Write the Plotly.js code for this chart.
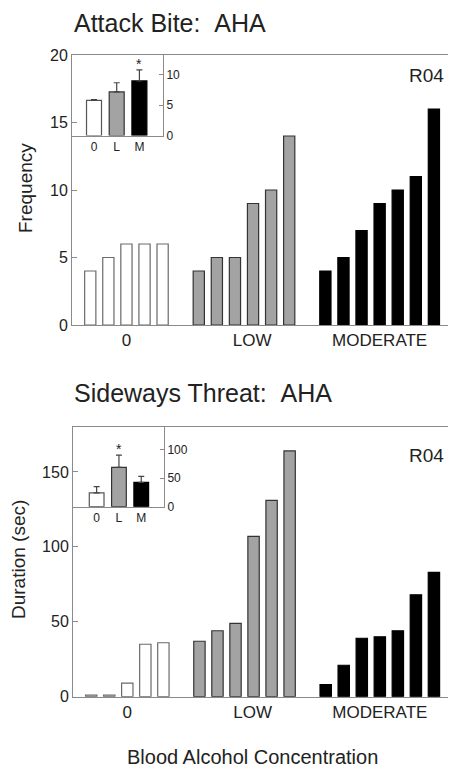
<!DOCTYPE html>
<html>
<head>
<meta charset="utf-8">
<script src="https://cdn.plot.ly/plotly-3.0.1.min.js"></script>
<style>html,body{margin:0;padding:0;background:#fff;}#chart{width:449px;height:769px;}</style>
</head>
<body>
<div id="chart"></div>
<script>
// ---- data ----
var groupLabels = ['0', 'LOW', 'MODERATE'];
var insetLabels = ['0', 'L', 'M'];

// Attack Bite frequency per subject session
var biteZero = [4, 5, 6, 6, 6];
var biteLow = [4, 5, 5, 9, 10, 14];
var biteModerate = [4, 5, 7, 9, 10, 11, 16];
// inset means and SEM
var biteMeans = [5.75, 7.15, 8.95];
var biteSem = [0.15, 1.5, 1.8];
var biteSig = [false, false, true];

// Sideways Threat duration (sec)
var threatZero = [1, 1, 9, 35, 36];
var threatLow = [37, 44, 49, 107, 131, 164];
var threatModerate = [8, 21, 39, 40, 44, 68, 83];
var threatMeans = [24, 68.5, 42.5];
var threatSem = [11, 21.5, 10.5];
var threatSig = [false, true, false];

// ---- styles ----
var FONT = 'Liberation Sans, Arial, sans-serif';
var TXT = '#222';
var AX = '#8a8a8a';
var fills = ['#ffffff', '#a3a3a3', '#000000'];
var outlines = ['#6a6a6a', '#333333', '#000000'];
var insetOutlines = ['#555555', '#333333', '#000000'];

function px(x) { return x / 449; }
function py(y) { return 1 - y / 769; }

// Build grouped positions: groups separated by one empty slot
function groupTraces(groups, xa, ya, width) {
  var traces = [], centers = [], off = 0;
  groups.forEach(function (vals, g) {
    var xs = vals.map(function (_, i) { return off + i; });
    centers.push(off + (vals.length - 1) / 2);
    traces.push({
      type: 'bar', x: xs, y: vals, xaxis: xa, yaxis: ya, width: width,
      marker: { color: fills[g], line: { color: outlines[g], width: 1.2 } },
      hoverinfo: 'y', showlegend: false
    });
    off += vals.length + 1;
  });
  return { traces: traces, centers: centers };
}

function insetTraces(means, sem, xa, ya) {
  return insetLabels.map(function (lab, i) {
    return {
      type: 'bar', x: [lab], y: [means[i]], xaxis: xa, yaxis: ya, width: 0.66,
      marker: { color: fills[i], line: { color: insetOutlines[i], width: 1.2 } },
      error_y: { type: 'data', symmetric: false, array: [sem[i]], arrayminus: [0], color: '#444', thickness: 1.2, width: 3 },
      showlegend: false, hoverinfo: 'y'
    };
  });
}

var topG = groupTraces([biteZero, biteLow, biteModerate], 'x', 'y', 0.62);
var botG = groupTraces([threatZero, threatLow, threatModerate], 'x2', 'y2', 0.63);

// small nudge for the LOW label as in the original figure
var labelNudge = [0, 0.45, 0];
function tickPos(c) { return c.map(function (v, i) { return v + labelNudge[i]; }); }

var data = [].concat(topG.traces, botG.traces,
  insetTraces(biteMeans, biteSem, 'x3', 'y3'),
  insetTraces(threatMeans, threatSem, 'x4', 'y4'));

function mainX(domain, centers, anchor) {
  return {
    domain: domain, anchor: anchor, range: [-1.01, 19.78],
    showline: true, mirror: true, linecolor: AX, linewidth: 1,
    showgrid: false, zeroline: false, ticks: '',
    tickmode: 'array', tickvals: tickPos(centers), ticktext: groupLabels,
    tickfont: { family: FONT, size: 17, color: TXT }, fixedrange: true
  };
}
function mainY(domain, range, dtick, anchor) {
  return {
    domain: domain, anchor: anchor, range: range,
    showline: true, linecolor: AX, linewidth: 1,
    showgrid: false, zeroline: false,
    ticks: 'inside', ticklen: 5, tickcolor: AX, dtick: dtick, tick0: 0,
    tickfont: { family: FONT, size: 16, color: TXT }, fixedrange: true
  };
}
function insetX(domain, range, anchor) {
  return {
    domain: domain, anchor: anchor, range: range, type: 'category',
    categoryorder: 'array', categoryarray: insetLabels,
    showline: true, linecolor: AX, linewidth: 1,
    showgrid: false, zeroline: false, ticks: '',
    tickfont: { family: FONT, size: 12, color: TXT }, fixedrange: true
  };
}
function insetY(domain, range, dtick, anchor) {
  return {
    domain: domain, anchor: anchor, side: 'right', range: range,
    showline: true, linecolor: AX, linewidth: 1,
    showgrid: false, zeroline: false,
    ticks: 'inside', ticklen: 4, tickcolor: AX, dtick: dtick, tick0: 0,
    tickfont: { family: FONT, size: 12, color: TXT }, fixedrange: true
  };
}

var annotations = [
  { text: 'Attack Bite: &nbsp;AHA', xref: 'paper', yref: 'paper', x: px(72), y: py(23), xanchor: 'left', yanchor: 'middle', showarrow: false, font: { family: FONT, size: 25, color: TXT } },
  { text: 'Sideways Threat: &nbsp;AHA', xref: 'paper', yref: 'paper', x: px(72), y: py(393), xanchor: 'left', yanchor: 'middle', showarrow: false, font: { family: FONT, size: 25, color: TXT } },
  { text: 'R04', xref: 'paper', yref: 'paper', x: px(446), y: py(76), xanchor: 'right', yanchor: 'middle', showarrow: false, font: { family: FONT, size: 19, color: TXT } },
  { text: 'R04', xref: 'paper', yref: 'paper', x: px(446), y: py(455), xanchor: 'right', yanchor: 'middle', showarrow: false, font: { family: FONT, size: 19, color: TXT } },
  { text: 'Frequency', xref: 'paper', yref: 'paper', x: px(25), y: py(188), textangle: -90, xanchor: 'center', yanchor: 'middle', showarrow: false, font: { family: FONT, size: 19, color: TXT } },
  { text: 'Duration (sec)', xref: 'paper', yref: 'paper', x: px(18), y: py(560), textangle: -90, xanchor: 'center', yanchor: 'middle', showarrow: false, font: { family: FONT, size: 19, color: TXT } },
  { text: 'Blood Alcohol Concentration', xref: 'paper', yref: 'paper', x: px(252), y: py(757), xanchor: 'center', yanchor: 'middle', showarrow: false, font: { family: FONT, size: 20, color: TXT } }
];
function stars(means, sem, sig, xa, ya) {
  means.forEach(function (m, i) {
    if (sig[i]) annotations.push({ text: '*', x: insetLabels[i], y: m + sem[i], xref: xa, yref: ya, xanchor: 'center', yanchor: 'bottom', yshift: -4, showarrow: false, font: { family: FONT, size: 14, color: TXT } });
  });
}
stars(biteMeans, biteSem, biteSig, 'x3', 'y3');
stars(threatMeans, threatSem, threatSig, 'x4', 'y4');

var layout = {
  width: 449, height: 769, autosize: false,
  margin: { l: 0, r: 0, t: 0, b: 0, pad: 0 },
  paper_bgcolor: '#fff', plot_bgcolor: 'rgba(0,0,0,0)',
  showlegend: false, bargap: 0,
  font: { family: FONT, color: TXT },
  xaxis: mainX([px(72), px(448)], topG.centers, 'y'),
  yaxis: mainY([py(325), py(55)], [0, 20], 5, 'x'),
  xaxis2: mainX([px(73), px(448)], botG.centers, 'y2'),
  yaxis2: mainY([py(696.7), py(427)], [0, 180], 50, 'x2'),
  xaxis3: insetX([px(72), px(163)], [-0.97, 3.04], 'y3'),
  yaxis3: insetY([py(135.5), py(55)], [0, 13.2], 5, 'x3'),
  xaxis4: insetX([px(73), px(164)], [-1.06, 3.02], 'y4'),
  yaxis4: insetY([py(506.7), py(427)], [0, 139], 50, 'x4'),
  annotations: annotations
};

Plotly.newPlot('chart', data, layout, { displayModeBar: false, staticPlot: true });
</script>
</body>
</html>
